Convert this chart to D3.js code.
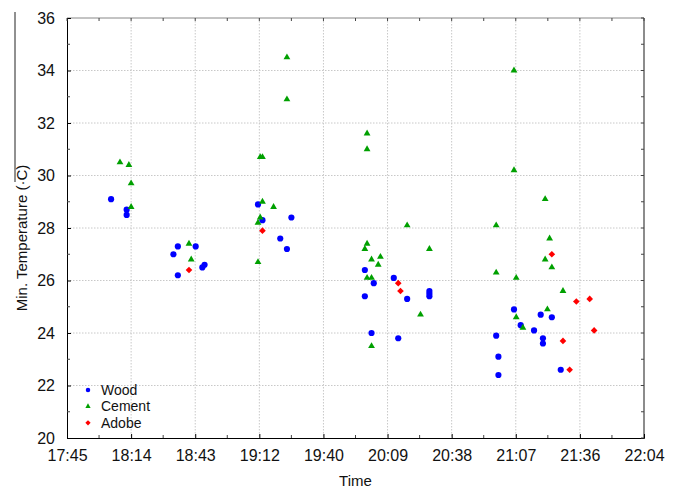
<!DOCTYPE html>
<html>
<head>
<meta charset="utf-8">
<script src="https://cdn.jsdelivr.net/npm/d3@7"></script>
<style>
  body { margin: 0; background: #fff; }
  text { font-family: Arial, "Liberation Sans", sans-serif; }
</style>
</head>
<body>
<div id="chart"></div>
<script>
// readings per material: time of day and minimum temperature
let woodTimes = ["18:05","18:12","18:12","18:35","18:43","18:33","18:35","18:46","18:47",
  "19:11","19:26","19:13","19:21","19:24",
  "19:59","20:03","19:59","20:12","20:18","20:28","20:28","20:28","20:02","20:14",
  "21:06","21:18","21:23","21:09","21:15","20:58","21:19","21:19","20:59","20:59","21:27"]
let woodTemps = [29.1,28.7,28.5,27.3,27.3,27.0,26.2,26.5,26.6,
  28.9,28.4,28.3,27.6,27.2,
  26.4,25.9,25.4,26.1,25.3,25.6,25.5,25.4,24.0,23.8,
  24.9,24.7,24.6,24.3,24.1,23.9,23.8,23.6,23.1,22.4,22.6]

let cementTimes = ["18:09","18:13","18:14","18:14","18:40","18:41",
  "19:24","19:24","19:12","19:13","19:13","19:18","19:12","19:11","19:11",
  "20:00","20:00","20:18","20:00","19:59","20:28","20:02","20:06","20:05","20:00","20:02","20:24","20:02",
  "21:06","21:06","20:58","21:20","21:22","21:20","21:23","20:58","21:07","21:28","21:21","21:07","21:10"]
let cementTemps = [30.5,30.4,29.7,28.8,27.4,26.8,
  34.5,32.9,30.7,30.7,29.0,28.8,28.4,28.2,26.7,
  31.6,31.0,28.1,27.4,27.2,27.2,26.8,26.9,26.6,26.1,26.1,24.7,23.5,
  34.0,30.2,28.1,29.1,27.6,26.8,26.5,26.3,26.1,25.6,24.9,24.6,24.2]

let adobeTimes = ["18:40","19:13","20:14","20:15","21:23","21:34","21:40","21:42","21:28","21:31"]
let adobeTemps = [26.4,27.9,25.9,25.6,27.0,25.2,25.3,24.1,23.7,22.6]

let seriesNames = ["Wood", "Cement", "Adobe"]
let xTickLabels = ["17:45","18:14","18:43","19:12","19:40","20:09","20:38","21:07","21:36","22:04"]
let yTicks = [20, 22, 24, 26, 28, 30, 32, 34, 36]

let width = 682, height = 488
let mLeft = 67, mRight = 644, mTop = 18, mBottom = 438

let toMin = s => { let p = s.split(":"); return +p[0] * 60 + +p[1] }

let series = [
  { name: seriesNames[0], color: "#0000ff", shape: d3.symbolCircle, size: 30, lsize: 16,
    pts: woodTimes.map((t, i) => [toMin(t), woodTemps[i]]) },
  { name: seriesNames[1], color: "#00a000", shape: d3.symbolTriangle, size: 20, lsize: 12,
    pts: cementTimes.map((t, i) => [toMin(t), cementTemps[i]]) },
  { name: seriesNames[2], color: "#ff0000", shape: d3.symbolSquare, size: 22, lsize: 14, rotate: 45,
    pts: adobeTimes.map((t, i) => [toMin(t), adobeTemps[i]]) }
]

// axis runs 17:45.2 .. 22:04.4 in steps of 28.8 min (0.02 day)
let xStart = 1065.2, xStep = 28.8
let xTicks = xTickLabels.map((d, i) => xStart + i * xStep)
let xMinor = xTicks.slice(1).map(d => d - xStep / 2)
let yMinor = yTicks.slice(1).map(d => d - 1)

let x = d3.scaleLinear().domain([xStart, xTicks[xTicks.length - 1]]).range([mLeft, mRight])
let y = d3.scaleLinear().domain([20, 36]).range([mBottom, mTop])

let svg = d3.select("#chart").append("svg")
  .attr("width", width)
  .attr("height", height)

// dotted grid
let grid = svg.append("g")
grid.selectAll(".gx").data(xTicks.slice(1, -1)).join("line")
  .attr("x1", d => x(d)).attr("x2", d => x(d))
  .attr("y1", mTop).attr("y2", mBottom)
  .attr("stroke", "#c8c8c8").attr("stroke-dasharray", "1.5,1.5")
grid.selectAll(".gy").data(yTicks.slice(1, -1)).join("line")
  .attr("y1", d => y(d)).attr("y2", d => y(d))
  .attr("x1", mLeft).attr("x2", mRight)
  .attr("stroke", "#c8c8c8").attr("stroke-dasharray", "1.5,1.5")

// frame
svg.append("line").attr("x1", mLeft).attr("x2", mRight).attr("y1", mTop).attr("y2", mTop)
  .attr("stroke", "#888").attr("stroke-width", 1)
svg.append("line").attr("x1", mRight).attr("x2", mRight).attr("y1", mTop).attr("y2", mBottom)
  .attr("stroke", "#666").attr("stroke-width", 1.5)

// axes with inward ticks
let xAxis = d3.axisBottom(x).tickValues(xTicks).tickSize(-4).tickPadding(12)
  .tickFormat((d, i) => xTickLabels[i])
let gx = svg.append("g").attr("transform", `translate(0,${mBottom})`).call(xAxis)
let yAxis = d3.axisLeft(y).tickValues(yTicks).tickSize(-4).tickPadding(12)
let gy = svg.append("g").attr("transform", `translate(${mLeft},0)`).call(yAxis)

for (let g of [gx, gy]) {
  g.select(".domain").attr("stroke", "#000")
  g.selectAll("text").attr("font-size", 16).attr("fill", "#111")
    .attr("font-family", "Arial, 'Liberation Sans', sans-serif")
}

// minor ticks on all four sides, major ticks on top/right
let tickG = svg.append("g").attr("stroke", "#444")
tickG.selectAll(".mxb").data(xMinor).join("line")
  .attr("x1", d => x(d)).attr("x2", d => x(d)).attr("y1", mBottom).attr("y2", mBottom - 3)
tickG.selectAll(".mxt").data(xMinor.concat(xTicks)).join("line")
  .attr("x1", d => x(d)).attr("x2", d => x(d)).attr("y1", mTop).attr("y2", mTop + 3)
tickG.selectAll(".myl").data(yMinor).join("line")
  .attr("y1", d => y(d)).attr("y2", d => y(d)).attr("x1", mLeft).attr("x2", mLeft + 3)
tickG.selectAll(".myr").data(yMinor.concat(yTicks)).join("line")
  .attr("y1", d => y(d)).attr("y2", d => y(d)).attr("x1", mRight).attr("x2", mRight - 3)

let rot = s => s.rotate ? ` rotate(${s.rotate})` : ""

// points
for (let s of series) {
  svg.append("g").selectAll("path").data(s.pts).join("path")
    .attr("d", d3.symbol(s.shape, s.size))
    .attr("transform", d => `translate(${x(d[0])},${y(d[1])})` + rot(s))
    .attr("fill", s.color)
}

// legend
let legend = svg.append("g")
series.forEach((s, i) => {
  let ly = 390 + i * 16.4
  legend.append("path")
    .attr("d", d3.symbol(s.shape, s.lsize)())
    .attr("transform", `translate(88,${ly})` + rot(s))
    .attr("fill", s.color)
  legend.append("text")
    .attr("x", 101).attr("y", ly + 5)
    .attr("font-size", 14).attr("fill", "#111")
    .text(s.name)
})

// axis titles
svg.append("text")
  .attr("x", (mLeft + mRight) / 2).attr("y", 486)
  .attr("text-anchor", "middle").attr("font-size", 15).attr("fill", "#111")
  .text("Time")
svg.append("text")
  .attr("transform", "translate(27,238) rotate(-90)")
  .attr("text-anchor", "middle").attr("font-size", 15).attr("fill", "#111")
  .text("Min. Temperature (·C)")
svg.append("line").attr("x1", 15).attr("x2", 15).attr("y1", 12).attr("y2", 182)
  .attr("stroke", "#222").attr("stroke-width", 1)
</script>
</body>
</html>
